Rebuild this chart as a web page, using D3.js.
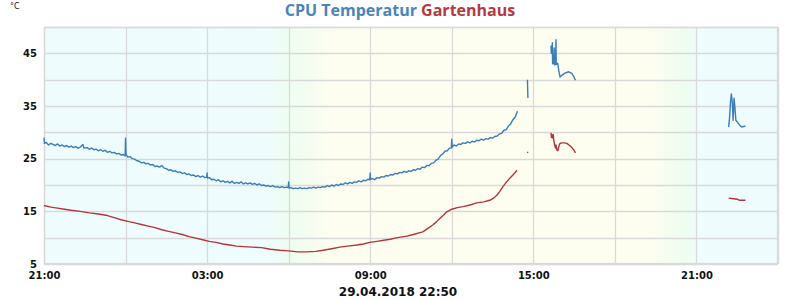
<!DOCTYPE html>
<html><head><meta charset="utf-8">
<script src="https://cdn.jsdelivr.net/npm/d3@7"></script>
<style>body{margin:0;background:#fff}svg{display:block}</style>
</head><body>
<svg id="chart" width="800" height="300"></svg>
<script>
// ---- data (minutes after 28.04.2018 21:00, value °C) ----
const startTime = new Date(2018, 3, 28, 21, 0);
const endTime = new Date(2018, 3, 30, 0, 0);
const xLabelHours = [0, 6, 12, 18, 24];   // hours after start: 21:00, 03:00, 09:00, 15:00, 21:00
const titleParts = ["CPU Temperatur", "Gartenhaus"];
const unitLabel = "°C";
const dateLabel = "29.04.2018 22:50";
const yLabelTicks = [5, 15, 25, 35, 45];
const yGridTicks = [5, 10, 15, 20, 25, 30, 35, 40, 45, 50];

const cpuSeries = [
 [0,29.0],[1,27.9],[5,28.1],[10,27.6],[15,27.9],[20,27.7],[25,27.5],[30,27.8],[35,27.4],[40,27.6],[45,27.3],[50,27.5],
 [55,27.2],[60,27.4],[65,27.1],[70,27.3],[75,27.0],[80,27.2],[86,27.7],[88,27.0],[95,27.1],[100,26.8],[105,27.0],[110,26.7],
 [115,26.8],[120,26.5],[125,26.7],[130,26.4],[135,26.6],[140,26.2],[145,26.4],[150,26.1],[155,26.2],[160,25.9],[165,26.0],
 [170,25.7],[175,25.8],[179,25.5],[180,28.9],[181,25.8],[185,25.3],[190,25.4],[195,25.0],[200,24.9],[205,24.6],[210,24.5],
 [215,24.2],[220,24.3],[225,24.0],[230,24.1],[235,23.8],[240,23.9],[245,23.5],[250,23.6],[255,23.4],[260,23.7],[265,23.2],
 [270,23.1],[275,22.8],[280,22.9],[285,22.6],[290,22.7],[295,22.4],[300,22.5],[305,22.2],[310,22.3],[315,22.0],[320,22.1],
 [325,21.8],[330,21.9],[335,21.6],[340,21.8],[345,21.5],[350,21.7],[355,21.4],[359,21.5],[360,22.3],[361,21.3],[365,21.4],
 [370,21.0],[375,21.1],[380,20.8],[385,21.0],[390,20.6],[395,20.8],[400,20.5],[405,20.7],[410,20.4],[415,20.7],[420,20.3],
 [425,20.5],[430,20.3],[435,20.6],[440,20.2],[445,20.4],[450,20.2],[455,20.4],[460,20.1],[465,20.3],[470,20.0],[475,20.2],
 [480,19.9],[485,20.0],[490,19.8],[495,19.9],[500,19.7],[505,19.9],[510,19.6],[515,19.7],[520,19.5],[525,19.7],[530,19.5],
 [535,19.6],[539,19.5],[540,20.6],[541,19.4],[545,19.5],[550,19.3],[555,19.4],[560,19.3],[565,19.5],[570,19.3],[575,19.4],
 [580,19.3],[585,19.5],[590,19.4],[595,19.6],[600,19.4],[605,19.6],[610,19.5],[615,19.7],[620,19.6],[625,19.9],[630,19.7],
 [635,20.0],[640,19.8],[645,20.1],[650,19.9],[655,20.2],[660,20.1],[665,20.4],[670,20.2],[675,20.5],[680,20.3],[685,20.6],
 [690,20.5],[695,20.8],[700,20.6],[705,20.9],[710,20.8],[715,21.1],[719,21.0],[720,22.3],[721,21.1],[725,21.2],[730,21.0],
 [735,21.4],[740,21.3],[745,21.6],[750,21.5],[755,21.8],[760,21.7],[765,22.0],[770,21.9],[775,22.2],[780,22.1],[785,22.4],
 [790,22.3],[795,22.6],[800,22.4],[805,22.7],[810,22.6],[815,22.9],[820,22.8],[825,23.1],[830,23.0],[835,23.4],[840,23.3],
 [845,23.7],[850,23.7],[855,24.1],[860,24.2],[865,24.7],[870,24.9],[875,25.6],[880,25.9],[885,26.4],[890,26.5],[895,27.0],
 [899,27.0],[900,28.7],[901,27.2],[905,27.6],[910,27.4],[915,27.8],[920,27.7],[925,28.0],[930,27.9],[935,28.2],[940,28.0],
 [945,28.3],[950,28.2],[955,28.5],[960,28.4],[965,28.7],[970,28.5],[975,28.8],[980,28.7],[985,29.0],[990,28.9],[995,29.2],
 [1000,29.3],[1005,29.7],[1010,29.8],[1015,30.4],[1020,30.5],[1025,31.2],[1030,31.6],[1035,32.4],[1040,32.9],[1045,34.0],
 [1050,null],
 [1067,40.0],[1068,36.5],
 [1090,null],
 [1119,46.5],[1119.5,45.0],[1121,45.3],[1122,47.0],[1122.5,43.0],[1125,43.2],[1126,46.0],[1126.5,42.8],
 [1129,42.9],[1130,47.6],[1130.5,42.9],[1134,43.1],[1136,41.8],[1139,40.5],[1144,40.9],[1151,41.3],
 [1158,41.5],[1165,41.2],[1169,40.6],[1173,39.9],
 [1300,null],
 [1511,31.0],[1513,32.7],[1515,35.6],[1517,37.3],[1519,35.8],[1521,32.3],[1523,36.5],[1525,34.6],
 [1527,32.3],[1530,32.0],[1535,31.4],[1540,31.0],[1544,31.1],[1548,31.2]
];

const gartenSeries = [
 [0,16.1],[15,15.8],[30,15.6],[45,15.4],[60,15.2],[80,15.0],[100,14.7],[120,14.5],[140,14.2],[155,13.8],
 [170,13.4],[185,13.1],[200,12.8],[215,12.5],[230,12.2],[245,11.9],[260,11.5],[275,11.2],[290,10.9],[305,10.6],
 [320,10.2],[335,9.9],[350,9.6],[365,9.3],[380,9.1],[395,8.8],[410,8.6],[425,8.4],[440,8.3],[460,8.2],
 [480,8.1],[500,7.8],[520,7.6],[540,7.5],[560,7.3],[580,7.3],[600,7.4],[616,7.6],[635,7.9],[653,8.2],
 [670,8.4],[691,8.6],[705,8.8],[719,9.1],[735,9.3],[750,9.5],[764,9.7],[780,10.0],[801,10.3],[815,10.6],
 [836,11.1],[848,11.8],[858,12.4],[866,13.0],[874,13.7],[882,14.3],[889,14.9],[900,15.4],[912,15.7],[925,15.9],
 [940,16.2],[955,16.6],[970,16.8],[984,17.1],[992,17.5],[1000,18.1],[1006,18.8],[1013,19.7],[1020,20.5],[1028,21.3],
 [1036,22.0],[1044,22.8],
 [1050,null],
 [1067,26.3],[1068,26.1],
 [1090,null],
 [1119,29.9],[1120,29.0],[1122,29.5],[1123,28.9],[1124,29.6],[1125,28.5],[1127,27.6],[1129,27.0],[1130,27.6],
 [1132,26.6],[1134,26.5],[1136,27.2],[1138,27.8],[1142,28.0],[1148,28.0],[1154,27.9],[1160,27.5],[1165,27.1],
 [1169,26.7],[1173,26.1],
 [1300,null],
 [1511,17.5],[1522,17.4],[1530,17.3],[1535,17.1],[1548,17.1]
];

// ---- drawing ----
const svg = d3.select("#chart");
const L = 44, R = 778, T = 27, B = 264;
const toDate = m => new Date(startTime.getTime() + m * 60000);

const x = d3.scaleTime().domain([startTime, endTime]).range([L, R]);
const y = d3.scaleLinear().domain([5, 50]).range([B, T]);

const cyan = "#eefcfd", green = "#eefdf0", yellow = "#fefef0";
const defs = svg.append("defs");
const grad = defs.append("linearGradient").attr("id", "daynight")
  .attr("gradientUnits", "userSpaceOnUse").attr("x1", L).attr("x2", R).attr("y1", 0).attr("y2", 0);
const frac = px => (px - L) / (R - L);
[[L, cyan], [268, cyan], [290, green], [335, yellow], [648, yellow], [684, green], [697, cyan], [R, cyan]]
  .forEach(([px, c]) => grad.append("stop").attr("offset", frac(px)).attr("stop-color", c));

svg.append("rect").attr("x", L).attr("y", T).attr("width", R - L).attr("height", B - T)
  .attr("fill", "url(#daynight)");

// grid
const gridColor = "#d9d9d9";
svg.append("g").selectAll("line").data(x.ticks(d3.timeHour.every(3))).join("line")
  .attr("x1", d => Math.round(x(d)) + 0.5).attr("x2", d => Math.round(x(d)) + 0.5)
  .attr("y1", T).attr("y2", B).attr("stroke", gridColor).attr("stroke-width", 1.3);
svg.append("g").selectAll("line").data(yGridTicks).join("line")
  .attr("x1", L).attr("x2", R)
  .attr("y1", d => Math.round(y(d)) + 0.5).attr("y2", d => Math.round(y(d)) + 0.5)
  .attr("stroke", gridColor).attr("stroke-width", 1.3);
svg.append("rect").attr("x", L + 0.5).attr("y", T + 0.5).attr("width", R - L - 1).attr("height", B - T - 1)
  .attr("fill", "none").attr("stroke", gridColor).attr("stroke-width", 1.3);

// axes labels
const font = "'DejaVu Sans', sans-serif";
const xTickDates = xLabelHours.map(h => d3.timeHour.offset(startTime, h));
const xAxis = d3.axisBottom(x).tickValues(xTickDates).tickFormat(d3.timeFormat("%H:%M")).tickSize(0).tickPadding(8);
const gx = svg.append("g").attr("transform", `translate(0,${B})`).call(xAxis);
gx.select(".domain").remove();
gx.selectAll("text").attr("font-family", font).attr("font-weight", "bold").attr("font-size", 10).attr("fill", "#111");

const yAxis = d3.axisLeft(y).tickValues(yLabelTicks).tickFormat(d3.format("d")).tickSize(0).tickPadding(7);
const gy = svg.append("g").attr("transform", `translate(${L},0)`).call(yAxis);
gy.select(".domain").remove();
gy.selectAll("text").attr("font-family", font).attr("font-weight", "bold").attr("font-size", 10).attr("fill", "#111");

// lines
const line = d3.line().defined(d => d[1] != null).x(d => x(toDate(d[0]))).y(d => y(d[1]));
svg.append("path").attr("d", line(gartenSeries)).attr("fill", "none")
  .attr("stroke", "#b3353b").attr("stroke-width", 1.4).attr("stroke-linejoin", "round");
svg.append("path").attr("d", line(cpuSeries)).attr("fill", "none")
  .attr("stroke", "#3a7db8").attr("stroke-width", 1.4).attr("stroke-linejoin", "round");

// texts
const title = svg.append("text").attr("x", 400).attr("y", 16).attr("text-anchor", "middle")
  .attr("font-family", "'Open Sans', sans-serif").attr("font-weight", "bold").attr("font-size", 16);
title.append("tspan").attr("fill", "#4a84b9").text(titleParts[0] + " ");
title.append("tspan").attr("fill", "#b43a40").text(titleParts[1]);

svg.append("text").attr("x", 10).attr("y", 9).attr("font-family", font).attr("font-size", 8)
  .attr("fill", "#111").text(unitLabel);
svg.append("text").attr("x", 398).attr("y", 296).attr("text-anchor", "middle")
  .attr("font-family", font).attr("font-weight", "bold").attr("font-size", 12).attr("fill", "#111").text(dateLabel);
</script>
</body></html>
